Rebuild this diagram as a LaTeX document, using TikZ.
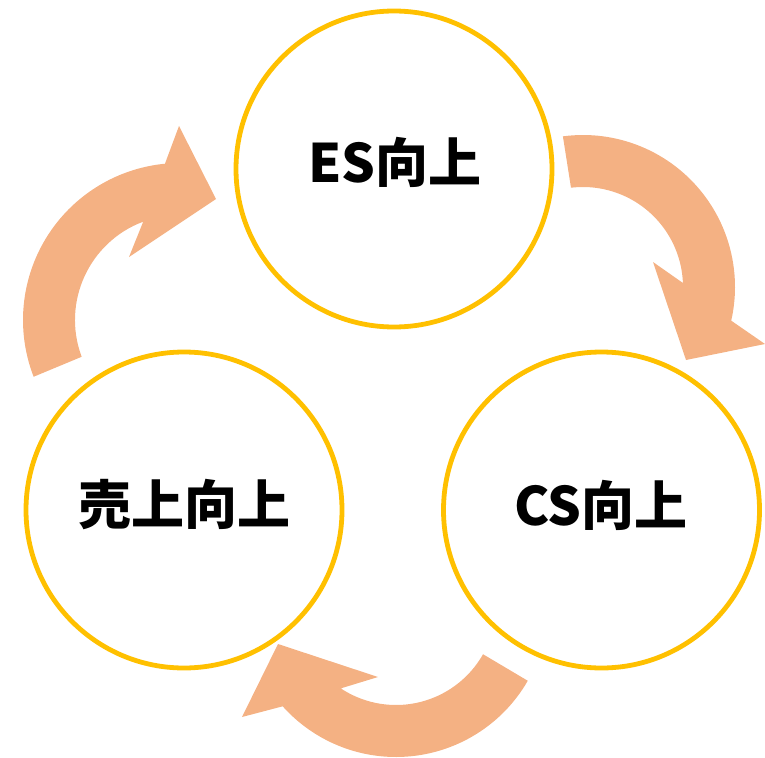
\documentclass[tikz,border=0pt]{standalone}
\usepackage{fontspec}
\usetikzlibrary{calc}
\setmainfont{Noto Sans CJK JP}
\definecolor{ringgold}{HTML}{FFC000}
\definecolor{arroworange}{HTML}{F4B183}
\begin{document}
\begin{tikzpicture}[x=1pt,y=1pt,
  ring/.style={circle,draw=ringgold,line width=4.8pt,minimum size=316pt,inner sep=0pt},
  label/.style={font=\fontsize{53}{63}\selectfont\bfseries},
  cyclearrow/.style={fill=arroworange}]
\useasboundingbox (0,0) rectangle (765,-757);
% arrow: ES -> CS (top right)
\coordinate (c1) at (583,-287);
\fill[cyclearrow] ($(c1)+(97.6:152)$) arc[start angle=97.6,end angle=-12.8,radius=152]
  -- (765,-344) -- (686,-360) -- (653,-262) -- ($(c1)+(2.3:100)$)
  arc[start angle=2.3,end angle=96.9,radius=100] -- cycle;
% arrow: sales -> ES (left)
\coordinate (c2) at (180,-320);
\fill[cyclearrow] ($(c2)+(201.2:157)$) arc[start angle=201.2,end angle=95.5,radius=157]
  -- (179,-126) -- (216,-199) -- (129,-257) -- ($(c2)+(110.5:105)$)
  arc[start angle=110.5,end angle=200.5,radius=105] -- cycle;
% arrow: CS -> sales (bottom)
\coordinate (c3) at (396,-605);
\fill[cyclearrow] ($(c3)+(-29.9:152)$) arc[start angle=-29.9,end angle=-138.2,radius=152]
  -- (242,-717) -- (278,-644) -- (378,-677) -- ($(c3)+(-123.5:100)$)
  arc[start angle=-123.5,end angle=-29.5,radius=100] -- cycle;
% circles
\node[ring] (es) at (394,-169) {};
\node[ring] (sales) at (184,-510) {};
\node[ring] (cs) at (601.5,-510) {};
\node[label] (estext) at (395,-162) {ES向上};
\node[label] (salestext) at (184,-505) {売上向上};
\node[label] (cstext) at (601,-505) {CS向上};
\end{tikzpicture}
\end{document}
